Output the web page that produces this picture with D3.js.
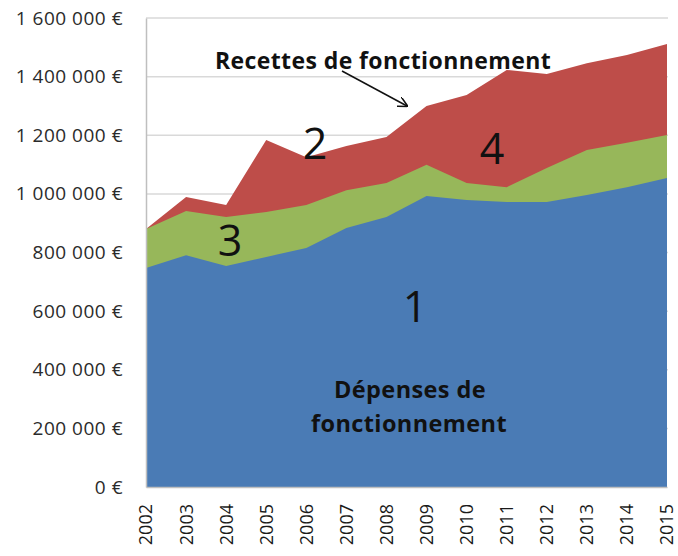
<!DOCTYPE html>
<html>
<head>
<meta charset="utf-8">
<script src="https://cdn.jsdelivr.net/npm/d3@7"></script>
<style>
  body { margin: 0; background: #fff; }
  svg { display: block; font-family: "Open Sans", "Liberation Sans", sans-serif; }
</style>
</head>
<body>
<div id="chart"></div>
<script>
// DATA
const years = [2002, 2003, 2004, 2005, 2006, 2007, 2008, 2009, 2010, 2011, 2012, 2013, 2014, 2015];
// 1 : dépenses de fonctionnement
const depenses = [747000, 791000, 754000, 785000, 815000, 884000, 921000, 993000, 979000, 972000, 972000, 996000, 1023000, 1054000];
// 3 : tranche verte
const niveauVert = [880000, 942000, 921000, 938000, 962000, 1012000, 1037000, 1099000, 1037000, 1023000, 1088000, 1150000, 1174000, 1201000];
// recettes de fonctionnement (haut de la zone rouge)
const recettes = [880000, 989000, 962000, 1184000, 1125000, 1163000, 1194000, 1300000, 1337000, 1423000, 1409000, 1446000, 1474000, 1511000];
const yTicks = [0, 200000, 400000, 600000, 800000, 1000000, 1200000, 1400000, 1600000];

const blueClr = "#4a7bb5";
const greenClr = "#97b75a";
const redClr = "#be4d49";
const fontFam = "'Open Sans', 'Liberation Sans', sans-serif";

const w = 678, h = 556;
const plotLeft = 146, plotRight = 667, plotTop = 18, plotBottom = 487;

const svg = d3.select("#chart").append("svg")
  .attr("width", w)
  .attr("height", h);

// SCALES
const xScale = d3.scaleLinear().domain([2002, 2015]).range([plotLeft, plotRight]);
const yScale = d3.scaleLinear().domain([0, 1600000]).range([plotBottom, plotTop]);

// GRIDLINES
svg.append("g")
  .selectAll("line")
  .data(yTicks.slice(1))
  .enter()
  .append("line")
  .attr("x1", plotLeft)
  .attr("x2", plotRight + 1)
  .attr("y1", (d) => yScale(d))
  .attr("y2", (d) => yScale(d))
  .attr("stroke", "#d9d9d9")
  .attr("stroke-width", 1.5);

// AREAS
function drawArea(values, color) {
  const area = d3.area()
    .x((d, i) => xScale(years[i]))
    .y0(yScale(0))
    .y1((d) => yScale(d));
  svg.append("path")
    .datum(values)
    .attr("d", area)
    .attr("fill", color);
}
drawArea(recettes, redClr);
drawArea(niveauVert, greenClr);
drawArea(depenses, blueClr);

// AXES
const yAxis = d3.axisLeft(yScale)
  .tickValues(yTicks)
  .tickSize(0)
  .tickPadding(23)
  .tickFormat((d) => d3.format(",")(d).replace(/,/g, " ") + " €");

svg.append("g")
  .attr("transform", "translate(" + plotLeft + ",0)")
  .call(yAxis)
  .attr("font-family", fontFam)
  .call((g) => g.select(".domain").attr("stroke", "#bfbfbf").attr("stroke-width", 1.5))
  .selectAll("text")
  .attr("font-size", 19)
  .attr("letter-spacing", 0.5)
  .attr("fill", "#2b2b2b");

const xAxis = d3.axisBottom(xScale)
  .tickValues(years)
  .tickSize(0)
  .tickFormat((d) => d);

svg.append("g")
  .attr("transform", "translate(0," + plotBottom + ")")
  .call(xAxis)
  .attr("font-family", fontFam)
  .call((g) => g.select(".domain").attr("stroke", "#bfbfbf").attr("stroke-width", 1.5))
  .selectAll("text")
  .attr("font-size", 18)
  .attr("fill", "#1a1a1a")
  .attr("text-anchor", "end")
  .attr("transform", "rotate(-90)")
  .attr("x", -17)
  .attr("y", 0)
  .attr("dy", "0.33em");

// ANNOTATIONS
svg.append("defs").append("marker")
  .attr("id", "arrow")
  .attr("viewBox", "0 0 10 10")
  .attr("refX", 9)
  .attr("refY", 5)
  .attr("markerWidth", 7)
  .attr("markerHeight", 7)
  .attr("orient", "auto")
  .append("path")
  .attr("d", "M0,0 L10,5 L0,10")
  .attr("fill", "none")
  .attr("stroke", "#111")
  .attr("stroke-width", 1.5);

svg.append("line")
  .attr("x1", 342).attr("y1", 71)
  .attr("x2", 407).attr("y2", 106)
  .attr("stroke", "#111")
  .attr("stroke-width", 1.5)
  .attr("marker-end", "url(#arrow)");

svg.append("text")
  .attr("x", 383).attr("y", 69)
  .attr("text-anchor", "middle")
  .attr("font-weight", "bold")
  .attr("font-size", 23)
  .attr("letter-spacing", 0.4)
  .attr("fill", "#111")
  .text("Recettes de fonctionnement");

const numLabels = [
  { t: "2", x: 315, y: 159 },
  { t: "4", x: 492, y: 164 },
  { t: "3", x: 230, y: 256 },
  { t: "1", x: 415, y: 322 }
];
svg.selectAll(".num")
  .data(numLabels)
  .enter()
  .append("text")
  .attr("class", "num")
  .attr("x", (d) => d.x)
  .attr("y", (d) => d.y)
  .attr("text-anchor", "middle")
  .attr("font-size", 43)
  .attr("fill", "#111")
  .text((d) => d.t);

svg.append("text")
  .attr("x", 410).attr("y", 398)
  .attr("text-anchor", "middle")
  .attr("font-weight", "bold")
  .attr("font-size", 23.5)
  .attr("letter-spacing", 0.4)
  .attr("fill", "#111")
  .text("Dépenses de");

svg.append("text")
  .attr("x", 409).attr("y", 432)
  .attr("text-anchor", "middle")
  .attr("font-weight", "bold")
  .attr("font-size", 23.5)
  .attr("letter-spacing", 0.4)
  .attr("fill", "#111")
  .text("fonctionnement");
</script>
</body>
</html>
